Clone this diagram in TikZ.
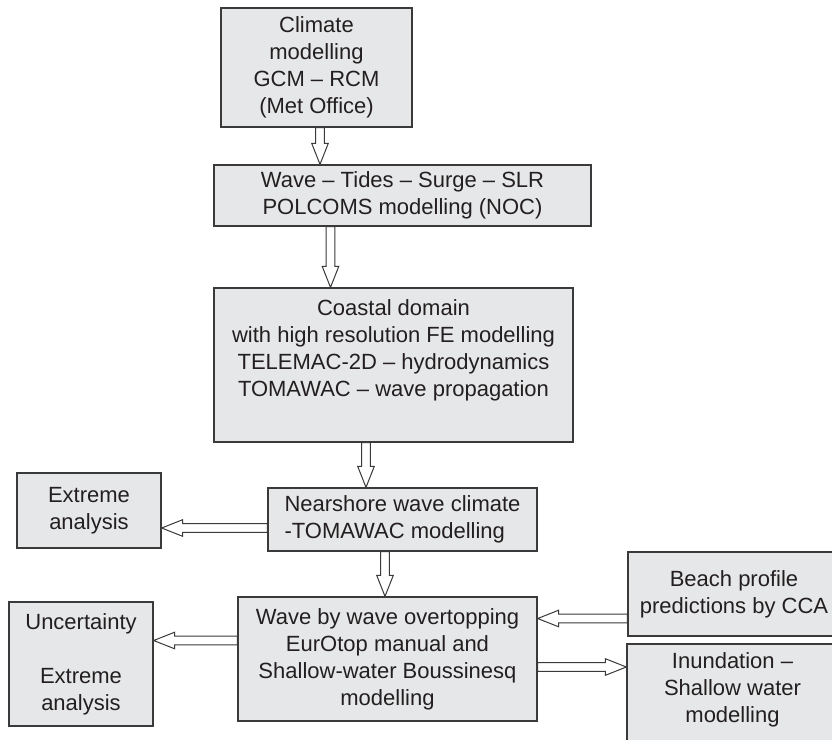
\documentclass[tikz,border=0pt]{standalone}
\usepackage{fontspec}
\setmainfont{Liberation Sans}
\usetikzlibrary{calc}
\definecolor{boxfill}{HTML}{E6E7E8}
\definecolor{boxline}{HTML}{3A3A3A}
\definecolor{txt}{HTML}{231F20}
\begin{document}
\begin{tikzpicture}[x=1pt,y=-1pt,
  txtfont/.style={font=\fontsize{22}{27}\selectfont, text=txt},
  box/.style={draw=boxline, fill=boxfill, line width=1.3pt, inner sep=0pt, align=center, txtfont},
  lbl/.style={inner sep=0pt, align=center, txtfont},
  hollow/.style={draw=boxline, line width=1pt, fill=white, line join=miter,
    to path={let \p1=(\tikztostart), \p2=(\tikztotarget), \p3=($(\p2)!21pt!(\p1)$) in
      ($(\p1)!4.3pt!90:(\p2)$) -- ($(\p3)!4.3pt!90:(\p2)$) -- ($(\p3)!8.3pt!90:(\p2)$) -- (\p2)
      -- ($(\p3)!8.3pt!-90:(\p2)$) -- ($(\p3)!4.3pt!-90:(\p2)$) -- ($(\p1)!4.3pt!-90:(\p2)$) -- cycle}}]
\useasboundingbox (0,0) rectangle (832,739);
\clip (0,0) rectangle (832,739);

% boxes
\node[box, minimum width=191pt, minimum height=119pt] (c1) at (316.5,67.5) {Climate\\modelling\\GCM – RCM\\(Met Office)};
\node[box, minimum width=377pt, minimum height=61pt] (c2) at (402.5,195.5) {Wave – Tides – Surge – SLR\\POLCOMS modelling (NOC)};
\node[box, minimum width=359pt, minimum height=154pt] (c3) at (393.5,365) {};
\node[lbl, anchor=north] (c3t) at ([yshift=-12pt]c3.north) {Coastal domain\\with high resolution FE modelling\\TELEMAC-2D – hydrodynamics\\TOMAWAC – wave propagation};
\node[box, align=left, minimum width=269pt, minimum height=63pt] (c4) at (402.5,519.5) {Nearshore wave climate\\-TOMAWAC modelling};
\node[box, minimum width=144pt, minimum height=75pt] (e1) at (89,510.5) {Extreme\\analysis};
\node[box, minimum width=299pt, minimum height=124pt] (c5) at (387.5,659) {Wave by wave overtopping\\EurOtop manual and\\Shallow-water Boussinesq\\modelling};
\node[box, minimum width=144pt, minimum height=124pt] (u) at (81,664) {Uncertainty\\[27pt]Extreme\\analysis};
\node[box, minimum width=212pt, minimum height=84pt] (b) at (734,594) {Beach profile\\predictions by CCA};
\node[box, minimum width=211pt, minimum height=106pt] (n) at (732.5,697) {};
\node[lbl] (nt) at (732.5,690) {Inundation –\\Shallow water\\modelling};

% connectors
\coordinate (a1) at ([xshift=3.5pt]c1.south);
\draw[hollow] (a1) to (a1 |- c2.north);
\coordinate (a2) at ([xshift=-72pt]c2.south);
\draw[hollow] (a2) to (a2 |- c3.north);
\coordinate (a3) at ([xshift=-27.5pt]c3.south);
\draw[hollow] (a3) to (a3 |- c4.north);
\coordinate (a4) at ([xshift=-17.5pt]c4.south);
\draw[hollow] (a4) to (a4 |- c5.north);
\coordinate (a5) at ([yshift=-8.5pt]c4.west);
\draw[hollow] (a5) to (a5 -| e1.east);
\coordinate (a6) at ([yshift=18.5pt]c5.west);
\draw[hollow] (a6) to (a6 -| u.east);
\coordinate (a7) at ([yshift=-24.5pt]b.west);
\draw[hollow] (a7) to (a7 -| c5.east);
\coordinate (a8) at ([yshift=-8pt]c5.east);
\draw[hollow] (a8) to (a8 -| n.west);
\end{tikzpicture}
\end{document}
